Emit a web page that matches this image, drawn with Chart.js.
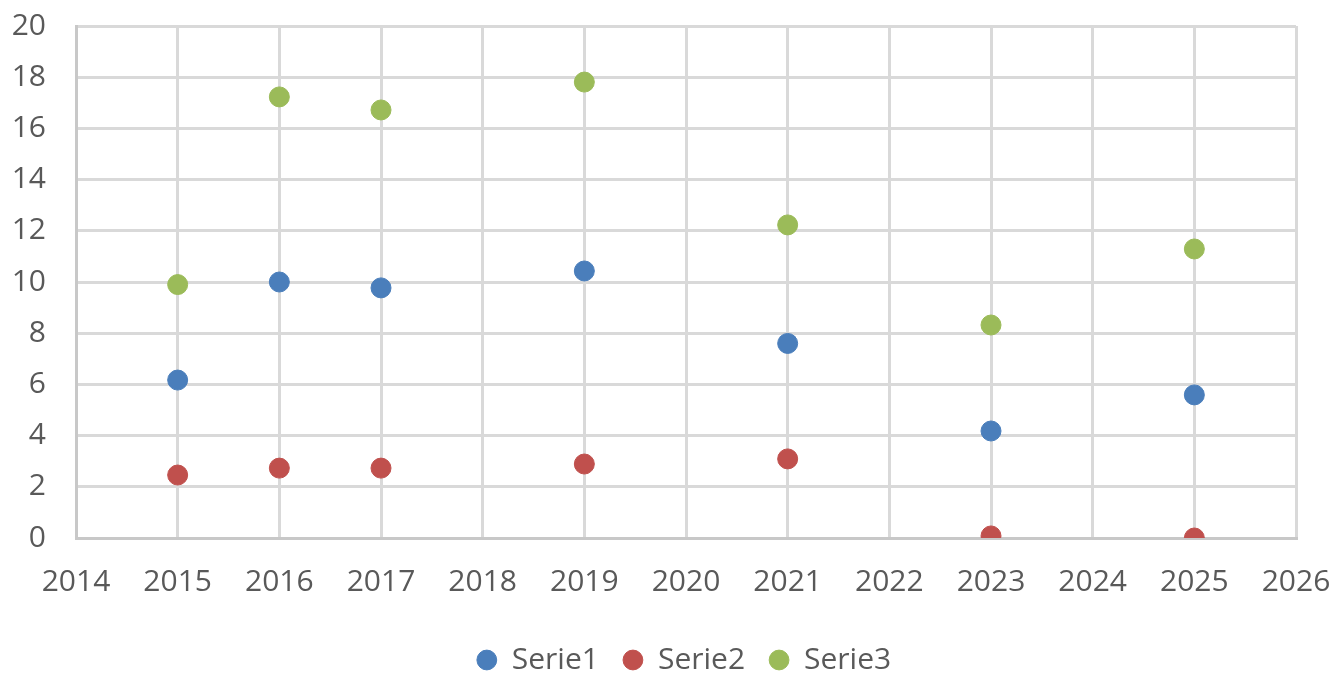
<!DOCTYPE html>
<html>
<head>
<meta charset="utf-8">
<script src="https://cdn.jsdelivr.net/npm/chart.js@4.4.0/dist/chart.umd.min.js"></script>
<style>
  html, body { margin: 0; padding: 0; background: #fff; }
  #wrap { width: 1336px; height: 675px; }
</style>
</head>
<body>
<div id="wrap"><canvas id="myChart" width="1336" height="675"></canvas></div>
<script>
// 데이터
const years = [2015, 2016, 2017, 2019, 2021, 2023, 2025];
const serie1 = [6.17, 10.0, 9.77, 10.43, 7.6, 4.18, 5.59];
const serie2 = [2.46, 2.73, 2.73, 2.89, 3.09, 0.08, 0.0];
const serie3 = [9.9, 17.23, 16.72, 17.81, 12.23, 8.32, 11.29];
const xTicks = [2014, 2026, 1];
const yTicks = [0, 20, 2];

const toPoints = (vals) => years.map((y, i) => ({ x: y, y: vals[i] }));

const font = { family: "'Open Sans', 'Liberation Sans', sans-serif", size: 30 };

// 범례를 오른쪽으로 조금 이동
const legendShift = {
    id: 'legendShift',
    afterLayout(chart) {
        chart.legend.left += 36;
        chart.legend.right += 36;
    }
};

const ctx = document.getElementById('myChart').getContext('2d');

const chart = new Chart(ctx, {
    type: 'scatter',
    data: {
        datasets: [
            { label: 'Serie1', data: toPoints(serie1), backgroundColor: '#4a7ebb', borderColor: '#4a7ebb', pointRadius: 10 },
            { label: 'Serie2', data: toPoints(serie2), backgroundColor: '#c0504d', borderColor: '#c0504d', pointRadius: 10 },
            { label: 'Serie3', data: toPoints(serie3), backgroundColor: '#9bbb59', borderColor: '#9bbb59', pointRadius: 10 }
        ]
    },
    options: {
        responsive: false,
        animation: false,
        layout: { padding: { top: 26, right: 40, bottom: -10, left: 0 } },
        scales: {
            x: {
                type: 'linear',
                min: xTicks[0], max: xTicks[1],
                ticks: { stepSize: xTicks[2], color: '#595959', font: font, padding: 26, maxRotation: 0,
                    callback: (v) => String(v) },
                grid: { color: '#d9d9d9', lineWidth: 3, drawTicks: false },
                border: { color: '#c8c8c8', width: 3 },
                afterFit: (s) => { s.height = 83; s.paddingLeft = 0; s.paddingRight = 0; }
            },
            y: {
                min: yTicks[0], max: yTicks[1],
                ticks: { stepSize: yTicks[2], color: '#595959', font: font, padding: 30 },
                grid: { color: '#d9d9d9', lineWidth: 3, drawTicks: false },
                border: { color: '#c8c8c8', width: 3 },
                afterFit: (s) => { s.width = 76; s.paddingTop = 0; s.paddingBottom = 0; }
            }
        },
        plugins: {
            legend: {
                position: 'bottom',
                labels: { usePointStyle: true, pointStyle: 'circle', boxWidth: 20, boxHeight: 14,
                    color: '#595959', font: font, padding: 24 }
            },
            tooltip: { enabled: false }
        }
    },
    plugins: [legendShift]
});
</script>
</body>
</html>
